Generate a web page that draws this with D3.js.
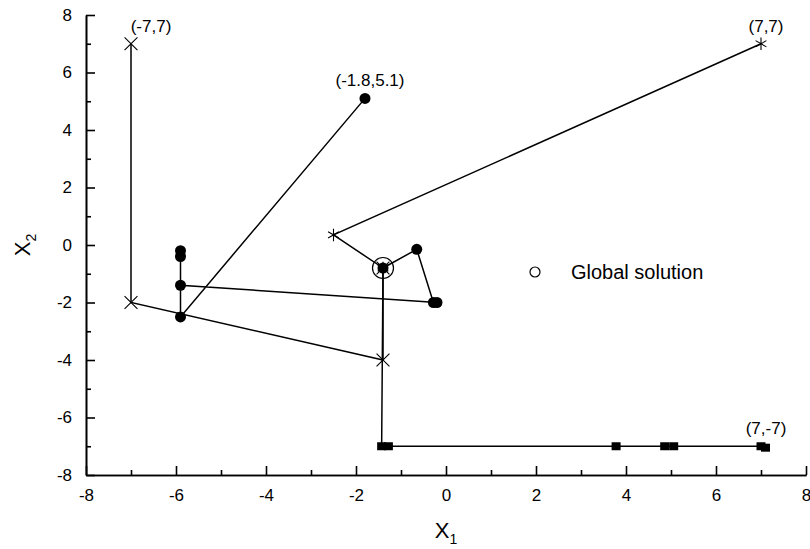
<!DOCTYPE html>
<html>
<head>
<meta charset="utf-8">
<script src="https://cdn.jsdelivr.net/npm/d3@7"></script>
<style>
  body { margin: 0; background: #fff; }
  svg { font-family: "Liberation Sans", Arial, sans-serif; }
  .axis path, .axis line { stroke: #000; stroke-width: 1.6; }
  .axis text { font-size: 17px; fill: #000; }
</style>
</head>
<body>
<div id="graph"></div>
<script>
// 探索経路ごとのデータ (x1, x2)
var crossX = [-7, -7, -1.4, -1.4];
var crossY = [7, -2, -4, -0.8];

var starX = [7, -2.5, -1.4];
var starY = [7, 0.35, -0.8];

var dotX = [-1.8, -5.9, -5.9, -5.9, -5.9, -0.2, -0.28, -0.65, -1.4];
var dotY = [5.1, -2.5, -0.2, -0.4, -1.4, -2.0, -2.0, -0.15, -0.8];

var squareX = [7.1, 7.0, 5.06, 4.86, 3.78, -1.28, -1.43, -1.4];
var squareY = [-7.05, -7.0, -7.0, -7.0, -7.0, -7.0, -7.0, -0.8];

// 大域解
var globalX = -1.4, globalY = -0.8;

// 始点のラベル
var labelText = ["(-7,7)", "(7,7)", "(-1.8,5.1)", "(7,-7)"];
var labelX = [-7, 7, -1.8, 7];
var labelY = [7, 7, 5.1, -7];

var majorTicks = [-8, -6, -4, -2, 0, 2, 4, 6, 8];
var minorTicks = [-7, -5, -3, -1, 1, 3, 5, 7];

var width = 810, height = 549;
var margin = { top: 15, left: 86, bottom: 74, right: 4 };
var chartWidth = width - margin.left - margin.right;
var chartHeight = height - margin.top - margin.bottom;

var svg = d3.select("#graph").append("svg")
  .attr("width", width).attr("height", height);

var xScale = d3.scaleLinear().domain([-8, 8]).range([0, chartWidth]);
var yScale = d3.scaleLinear().domain([-8, 8]).range([chartHeight, 0]);

var axisLayer = svg.append("g").attr("transform", "translate(" + [margin.left, margin.top] + ")");
var chartLayer = svg.append("g").attr("transform", "translate(" + [margin.left, margin.top] + ")");

// ハイフンのマイナス記号
var fmt = function(d) { return String(d); };

// 軸 (目盛りは内向き)
var xAxis = d3.axisBottom(xScale).tickValues(majorTicks).tickSizeInner(-9).tickSizeOuter(0).tickPadding(14).tickFormat(fmt);
var xMinor = d3.axisBottom(xScale).tickValues(minorTicks).tickSizeInner(-5).tickSizeOuter(0).tickFormat("");
var yAxis = d3.axisLeft(yScale).tickValues(majorTicks).tickSizeInner(-9).tickSizeOuter(0).tickPadding(14).tickFormat(fmt);
var yMinor = d3.axisLeft(yScale).tickValues(minorTicks).tickSizeInner(-5).tickSizeOuter(0).tickFormat("");

axisLayer.append("g").attr("class", "axis").attr("transform", "translate(0," + chartHeight + ")").call(xAxis);
axisLayer.append("g").attr("class", "axis").attr("transform", "translate(0," + chartHeight + ")").call(xMinor);
axisLayer.append("g").attr("class", "axis").call(yAxis);
axisLayer.append("g").attr("class", "axis").call(yMinor);
axisLayer.selectAll(".domain").attr("stroke-width", 2);

// 軸タイトル
var xt = svg.append("text")
  .attr("x", margin.left + xScale(0)).attr("y", 538)
  .attr("text-anchor", "middle").attr("font-size", 22);
xt.append("tspan").text("X");
xt.append("tspan").attr("font-size", 14).attr("dy", 6).text("1");

var yt = svg.append("text")
  .attr("transform", "translate(30," + (margin.top + yScale(0)) + ") rotate(-90)")
  .attr("text-anchor", "middle").attr("font-size", 22);
yt.append("tspan").text("X");
yt.append("tspan").attr("font-size", 14).attr("dy", 6).text("2");

function toPoints(xs, ys) {
  return xs.map(function(x, i) { return [xScale(x), yScale(ys[i])]; });
}

var line = d3.line();

// 経路の線
[[crossX, crossY], [starX, starY], [dotX, dotY], [squareX, squareY]].forEach(function(s) {
  chartLayer.append("path")
    .attr("d", line(toPoints(s[0], s[1])))
    .attr("fill", "none").attr("stroke", "#000").attr("stroke-width", 1.5);
});

// マーカー
var crossSym = d3.symbol().type(d3.symbolX).size(110);
chartLayer.selectAll(".cross").data(toPoints(crossX, crossY)).enter()
  .append("path").attr("class", "cross")
  .attr("d", crossSym)
  .attr("transform", function(d) { return "translate(" + d + ")"; })
  .attr("fill", "none").attr("stroke", "#000").attr("stroke-width", 1.1);

var starSym = d3.symbol().type(d3.symbolAsterisk).size(110);
chartLayer.selectAll(".star").data(toPoints(starX, starY)).enter()
  .append("path").attr("class", "star")
  .attr("d", starSym)
  .attr("transform", function(d) { return "translate(" + d + ")"; })
  .attr("fill", "none").attr("stroke", "#000").attr("stroke-width", 1.1);

chartLayer.selectAll(".dot").data(toPoints(dotX, dotY)).enter()
  .append("circle").attr("class", "dot")
  .attr("cx", function(d) { return d[0]; })
  .attr("cy", function(d) { return d[1]; })
  .attr("r", 5.5).attr("fill", "#000");

chartLayer.selectAll(".sq").data(toPoints(squareX, squareY)).enter()
  .append("rect").attr("class", "sq")
  .attr("x", function(d) { return d[0] - 4.5; })
  .attr("y", function(d) { return d[1] - 4; })
  .attr("width", 9).attr("height", 8).attr("fill", "#000");

// 大域解
chartLayer.append("circle")
  .attr("cx", xScale(globalX)).attr("cy", yScale(globalY))
  .attr("r", 10.5).attr("fill", "none").attr("stroke", "#000").attr("stroke-width", 1.2);

// 始点ラベル
chartLayer.selectAll(".lbl").data(labelText).enter()
  .append("text").attr("class", "lbl")
  .attr("x", function(d, i) { return xScale(labelX[i]) + (i === 0 ? 20 : 5); })
  .attr("y", function(d, i) { return yScale(labelY[i]) - 12; })
  .attr("text-anchor", "middle").attr("font-size", 17)
  .text(function(d) { return d; });

// 凡例
svg.append("circle").attr("cx", 535).attr("cy", 272).attr("r", 5)
  .attr("fill", "none").attr("stroke", "#000").attr("stroke-width", 1.2);
svg.append("text").attr("x", 571).attr("y", 279).attr("font-size", 20).text("Global solution");
</script>
</body>
</html>
